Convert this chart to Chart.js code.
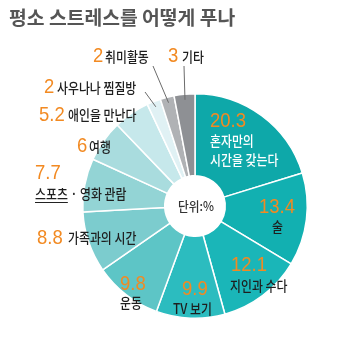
<!DOCTYPE html>
<html><head><meta charset="utf-8">
<script src="https://cdn.jsdelivr.net/npm/chart.js@4"></script>
<style>html,body{margin:0;padding:0;background:#fff;}#wrap{width:350px;height:347px;position:relative;}</style>
</head><body><div id="wrap"><canvas id="c" width="350" height="347"></canvas></div>
<script>
const title = '평소 스트레스를 어떻게 푸나';
const categories = ['혼자만의 시간을 갖는다','술','지인과 수다','TV 보기','운동','가족과의 시간','스포츠 · 영화 관람','여행','애인을 만난다','사우나나 찜질방','취미활동','기타'];
const values = [20.3, 13.4, 12.1, 9.9, 9.8, 8.8, 7.7, 6, 5.2, 2, 2, 3];
const valueLabels = ['20.3','13.4','12.1','9.9','9.8','8.8','7.7','6','5.2','2','2','3'];
const unitLabel = '단위:%';
const colors = ['#0ea8a9','#12b0b1','#1ab6b8','#2cbcbf','#5dc5c6','#7cccce','#93d4d5','#a9dcde','#c6e8eb','#e0f1f4','#b0b2b5','#8e9094'];

// label layout: offsets from chart centre, text lines, text colour, leader start
const layout = [
  {n:[15,-79], t:[15,-60], lines:['혼자만의','시간을 갖는다'], col:'#ffffff'},
  {n:[64,7], t:[77,26]},
  {n:[36,65], t:[35,85]},
  {n:[-13,89], t:[-22,108]},
  {n:[-75,84], t:[-75,102]},
  {n:[-158,38], t:[-127,37]},
  {n:[-160,-27], t:[-160,-7], underline:'스포츠'},
  {n:[-118,-54], t:[-106,-54]},
  {n:[-156,-85], t:[-127,-86]},
  {n:[-151,-113], t:[-138,-113], lead:[-50,-114]},
  {n:[-102,-144], t:[-90,-144], lead:[-42,-140]},
  {n:[-27,-144], t:[-13,-144], lead:[-11,-140]}
];

const NUMFONT = '21px "Liberation Sans", Arial, sans-serif';
const TXTFONT = '500 14px "Noto Sans CJK KR", sans-serif';

function drawScaled(ctx, text, x, y, sx) {
  ctx.save(); ctx.translate(x, y); ctx.scale(sx, 1); ctx.fillText(text, 0, 0); ctx.restore();
}

const labelPlugin = {
  id: 'labels',
  afterDraw(chart) {
    const ctx = chart.ctx;
    const meta = chart.getDatasetMeta(0);
    const arc0 = meta.data[0];
    const cx = arc0.x, cy = arc0.y;
    ctx.save();
    ctx.fillStyle = '#555555';
    ctx.font = 'bold 19.5px "Noto Sans CJK KR", sans-serif';
    ctx.textBaseline = 'alphabetic';
    ctx.textAlign = 'left';
    drawScaled(ctx, title, 9, 25, 0.99);
    ctx.fillStyle = '#333333';
    ctx.font = '500 13px "Noto Sans CJK KR", sans-serif';
    ctx.textAlign = 'center';
    drawScaled(ctx, unitLabel, cx + 1, cy + 5, 0.9);
    ctx.textAlign = 'left';
    layout.forEach((L, i) => {
      const arc = meta.data[i];
      if (L.lead) {
        const mid = (arc.startAngle + arc.endAngle) / 2;
        const r = arc.outerRadius * 0.95;
        ctx.strokeStyle = '#6b6b6b';
        ctx.lineWidth = 1;
        ctx.beginPath();
        ctx.moveTo(cx + L.lead[0], cy + L.lead[1]);
        ctx.lineTo(cx + Math.cos(mid) * r, cy + Math.sin(mid) * r);
        ctx.stroke();
      }
      ctx.fillStyle = '#f28a22';
      ctx.font = NUMFONT;
      drawScaled(ctx, valueLabels[i], cx + L.n[0], cy + L.n[1], 0.88);
      ctx.fillStyle = L.col || '#1e1e1e';
      ctx.font = TXTFONT;
      const lines = L.lines || [categories[i]];
      lines.forEach((s, k) => drawScaled(ctx, s, cx + L.t[0], cy + L.t[1] + k * 19, 0.85));
      if (L.underline) {
        const w = ctx.measureText(L.underline).width * 0.85;
        ctx.strokeStyle = '#222222'; ctx.lineWidth = 1;
        ctx.beginPath();
        ctx.moveTo(cx + L.t[0], cy + L.t[1] + 3.5);
        ctx.lineTo(cx + L.t[0] + w, cy + L.t[1] + 3.5);
        ctx.stroke();
      }
    });
    ctx.restore();
  }
};

new Chart(document.getElementById('c'), {
  type: 'doughnut',
  data: {
    labels: categories,
    datasets: [{ data: values, backgroundColor: colors, borderColor: '#ffffff', borderWidth: 1.5, hoverOffset: 0 }]
  },
  options: {
    responsive: false,
    animation: false,
    cutout: '27%',
    layout: { padding: { left: 82, right: 42, top: 93, bottom: 28 } },
    plugins: { legend: { display: false }, tooltip: { enabled: false } }
  },
  plugins: [labelPlugin]
});
</script>
</body></html>
